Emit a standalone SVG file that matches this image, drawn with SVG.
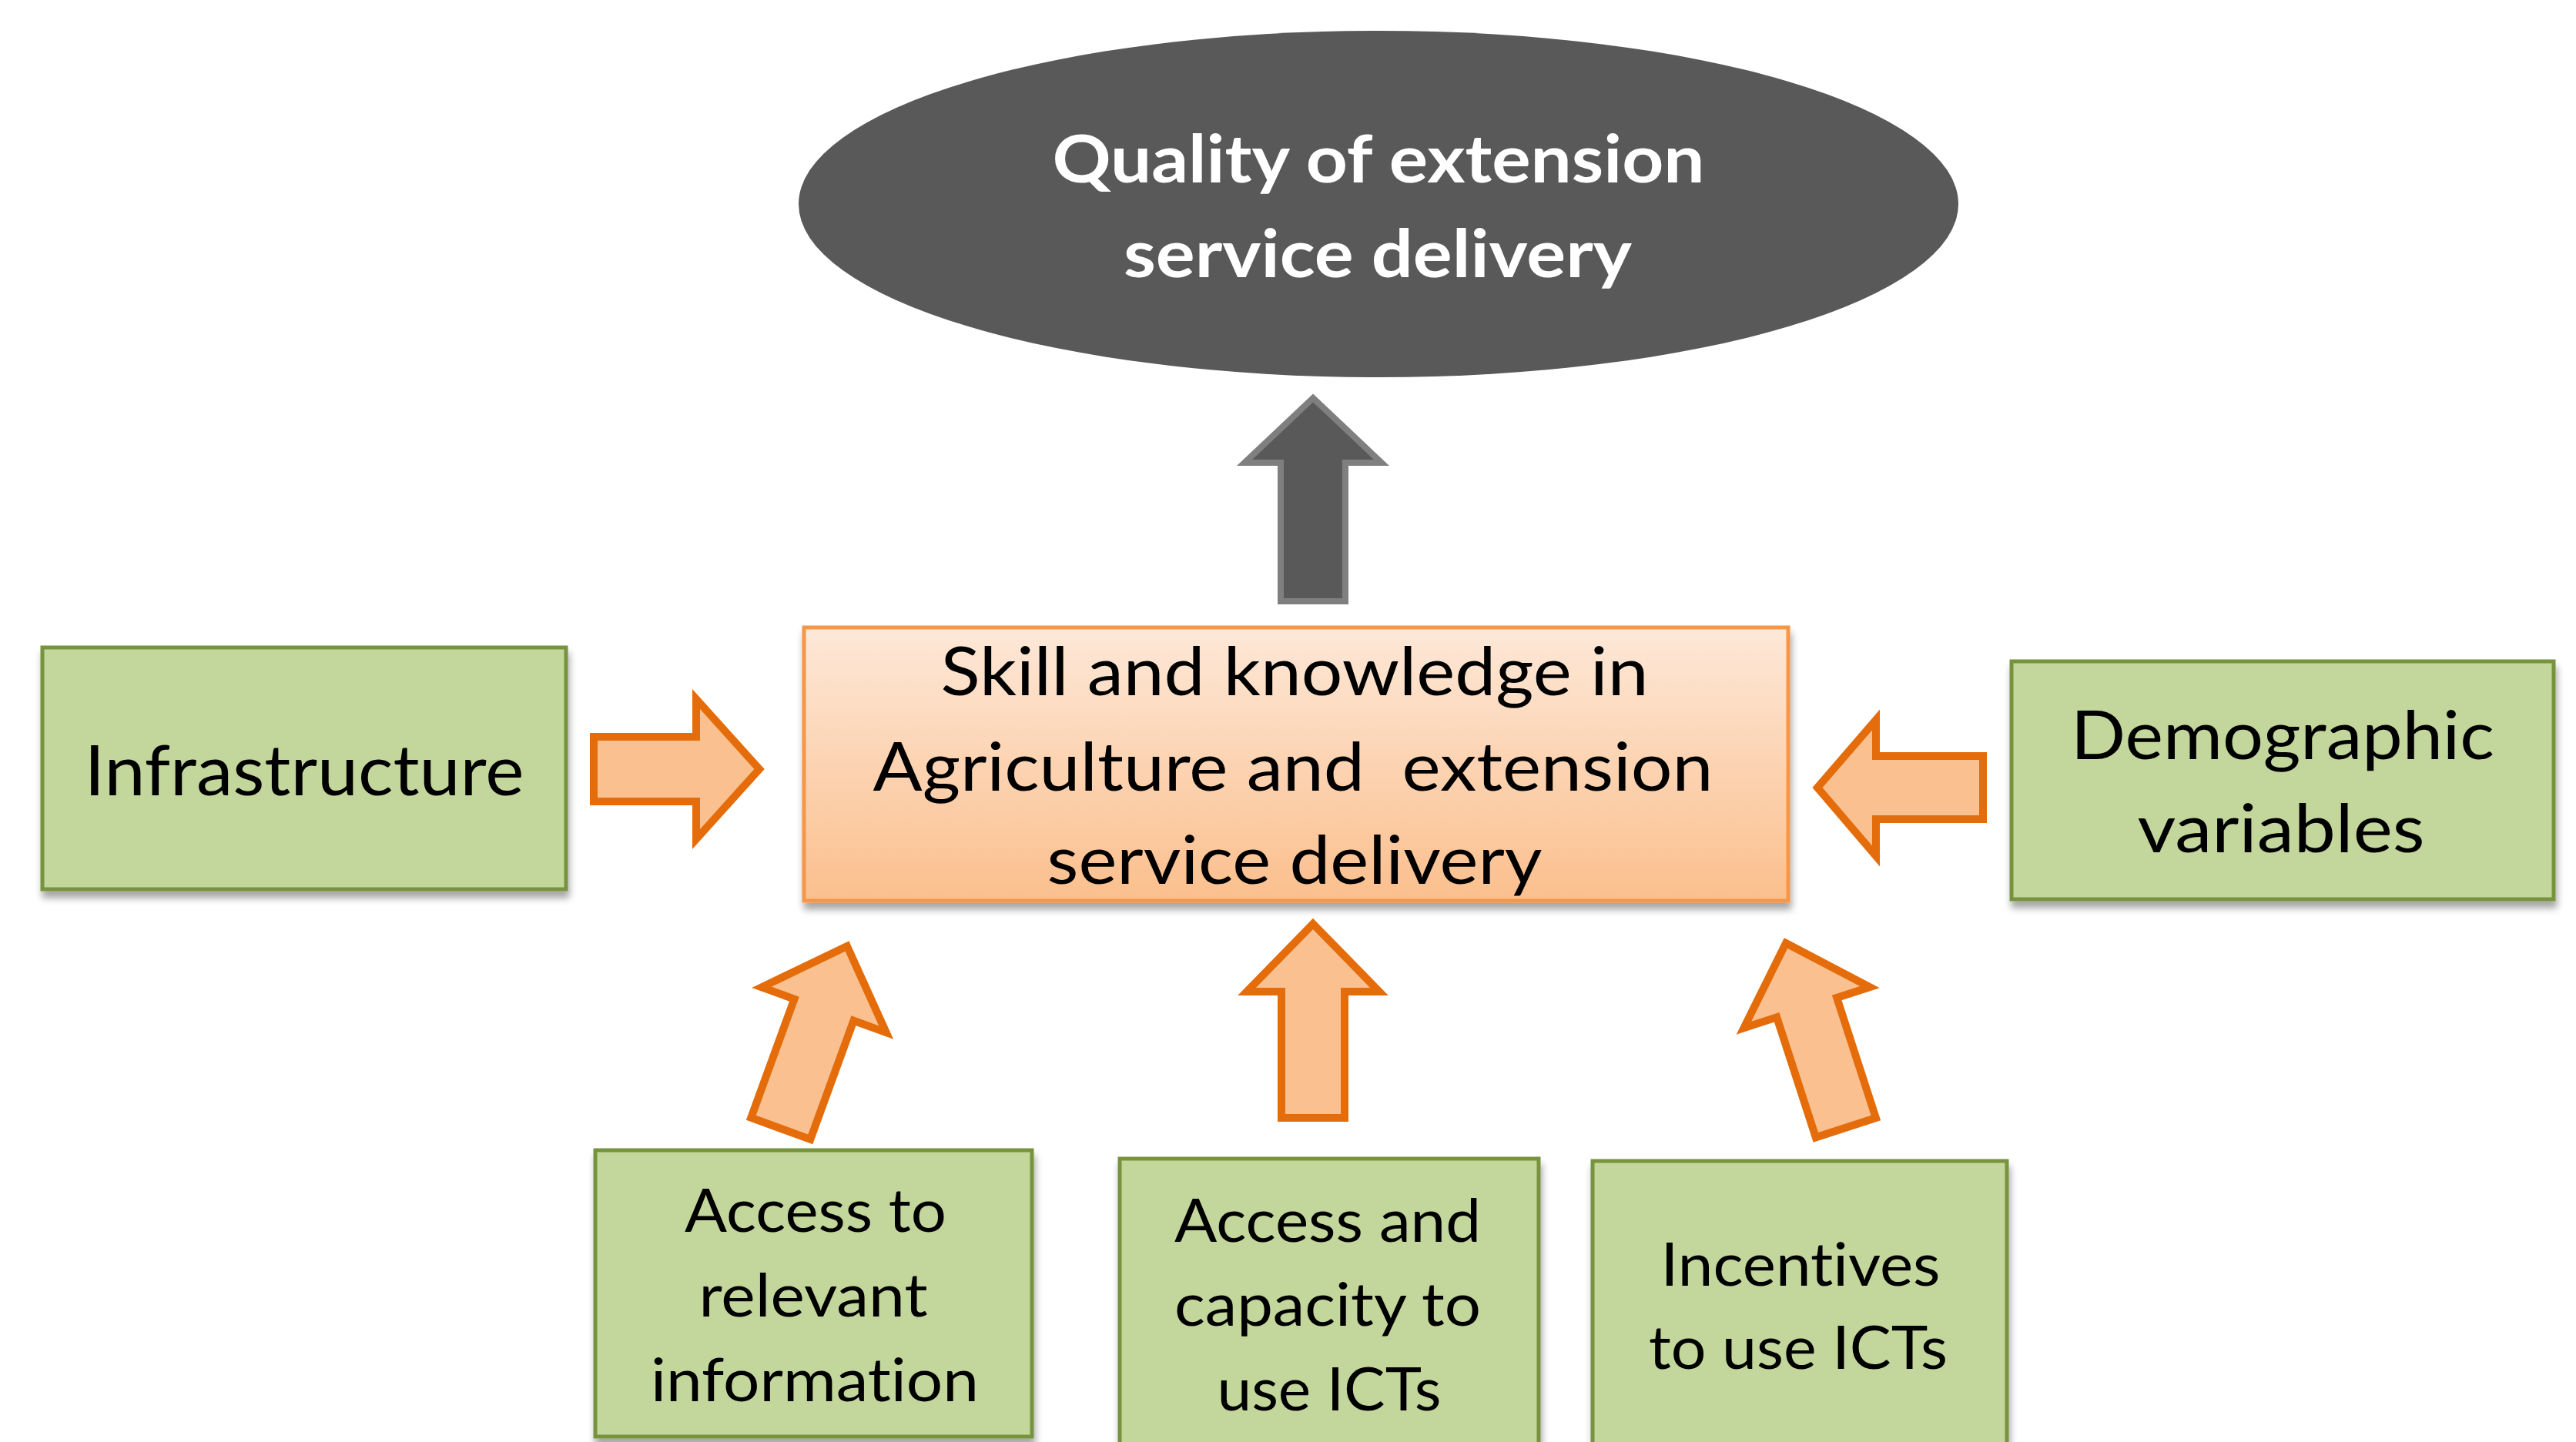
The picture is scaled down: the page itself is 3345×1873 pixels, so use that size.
<svg xmlns="http://www.w3.org/2000/svg" xmlns:xlink="http://www.w3.org/1999/xlink" width="3345" height="1873" viewBox="0 0 3345 1873">
<style>
.box{fill:#c3d69b;stroke:#77933c;stroke-width:5;filter:url(#shadow)}
.t{font-family:Lato,"Liberation Sans",sans-serif;fill:#000;text-anchor:middle;font-variant-ligatures:none;font-feature-settings:"liga" 0,"clig" 0}
.tw{font-family:Lato,"Liberation Sans",sans-serif;font-weight:bold;fill:#fff;text-anchor:middle;font-variant-ligatures:none;font-feature-settings:"liga" 0,"clig" 0}
.oarrow{fill:#fac090;stroke:#e46c0a;stroke-width:10;stroke-linejoin:miter}
.garrow{fill:#595959;stroke:#7f7f7f;stroke-width:8;stroke-linejoin:miter}
</style>
<defs>
<linearGradient id="og" x1="0" y1="0" x2="0" y2="1">
<stop offset="0" stop-color="#fde8d8"/>
<stop offset="1" stop-color="#fbbf8d"/>
</linearGradient>
<filter id="shadow" x="-5%" y="-5%" width="115%" height="120%">
<feDropShadow dx="2" dy="9" stdDeviation="5" flood-color="#000" flood-opacity="0.35"/>
</filter>
<path id="uparrow" d="M0,0 L86,88 L41,88 L41,252 L-41,252 L-41,88 L-86,88 Z"/>
</defs>

<g id="quality">
<ellipse cx="1790" cy="265" rx="753" ry="225" fill="#595959"/>
<text class="tw" x="1790" y="237" font-size="86" textLength="847" lengthAdjust="spacingAndGlyphs">Quality of extension</text>
<text class="tw" x="1789" y="360" font-size="86" textLength="660" lengthAdjust="spacingAndGlyphs">service delivery</text>
</g>

<g id="skill">
<rect x="1044" y="815" width="1278" height="355" fill="url(#og)" stroke="#f79646" stroke-width="5" filter="url(#shadow)"/>
<text class="t" x="1681" y="903" font-size="88" textLength="919" lengthAdjust="spacingAndGlyphs">Skill and knowledge in</text>
<text class="t" x="1679" y="1027" font-size="88" textLength="1091" lengthAdjust="spacingAndGlyphs" xml:space="preserve">Agriculture and  extension</text>
<text class="t" x="1681" y="1148" font-size="88" textLength="643" lengthAdjust="spacingAndGlyphs">service delivery</text>
</g>

<g id="infrastructure">
<rect class="box" x="55" y="841" width="680" height="314"/>
<text class="t" x="395" y="1033" font-size="92" textLength="571" lengthAdjust="spacingAndGlyphs">Infrastructure</text>
</g>

<g id="demographic">
<rect class="box" x="2612" y="859" width="704" height="309"/>
<text class="t" x="2964" y="986" font-size="88" textLength="550" lengthAdjust="spacingAndGlyphs">Demographic</text>
<text class="t" x="2962" y="1107" font-size="88" textLength="373" lengthAdjust="spacingAndGlyphs">variables</text>
</g>

<g id="access-info">
<rect class="box" x="773" y="1494" width="567" height="372"/>
<text class="t" x="1059" y="1600" font-size="77" textLength="340" lengthAdjust="spacingAndGlyphs">Access to</text>
<text class="t" x="1056" y="1710" font-size="77" textLength="297" lengthAdjust="spacingAndGlyphs">relevant</text>
<text class="t" x="1058" y="1820" font-size="77" textLength="426" lengthAdjust="spacingAndGlyphs">information</text>
</g>

<g id="access-ict">
<rect class="box" x="1454" y="1505" width="544" height="385"/>
<text class="t" x="1724" y="1613" font-size="77" textLength="398" lengthAdjust="spacingAndGlyphs">Access and</text>
<text class="t" x="1724" y="1722" font-size="77" textLength="398" lengthAdjust="spacingAndGlyphs">capacity to</text>
<text class="t" x="1726" y="1832" font-size="77" textLength="291" lengthAdjust="spacingAndGlyphs">use ICTs</text>
</g>

<g id="incentives">
<rect class="box" x="2068" y="1508" width="538" height="385"/>
<text class="t" x="2338" y="1670" font-size="77" textLength="363" lengthAdjust="spacingAndGlyphs">Incentives</text>
<text class="t" x="2335" y="1778" font-size="77" textLength="388" lengthAdjust="spacingAndGlyphs">to use ICTs</text>
</g>

<g id="connectors">
<path class="garrow" d="M1705,517 L1794,601 L1747,601 L1747,781 L1663,781 L1663,601 L1616,601 Z"/>
<path class="oarrow" d="M771,957 L904,957 L904,908 L986,999 L904,1090 L904,1041 L771,1041 Z"/>
<path class="oarrow" d="M2575,982 L2436,982 L2436,935 L2360,1023 L2436,1112 L2436,1064 L2575,1064 Z"/>
<use class="oarrow" xlink:href="#uparrow" href="#uparrow" transform="translate(1705,1200)"/>
<use class="oarrow" xlink:href="#uparrow" href="#uparrow" transform="translate(1100,1229) rotate(20)"/>
<use class="oarrow" xlink:href="#uparrow" href="#uparrow" transform="translate(2319,1225) rotate(-18)"/>
</g>
</svg>
